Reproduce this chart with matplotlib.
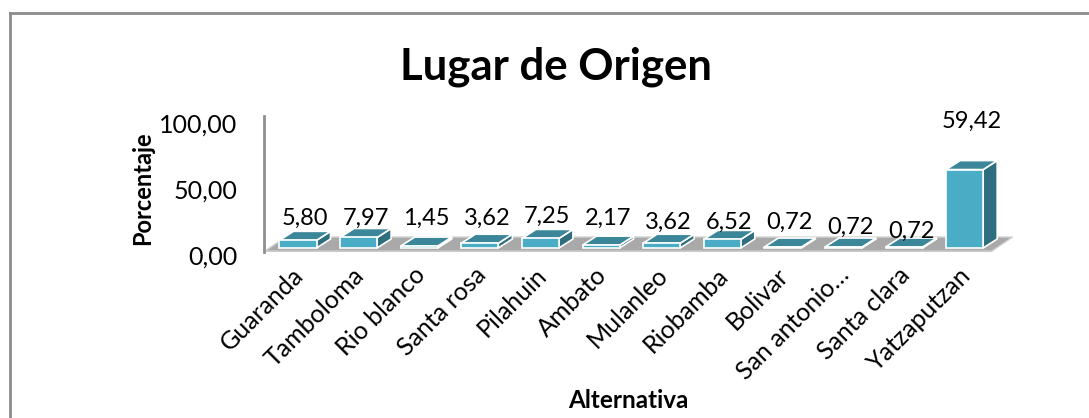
import numpy as np
import matplotlib.pyplot as plt
from matplotlib.patches import Polygon
from matplotlib.lines import Line2D
import matplotlib.transforms as mtransforms

plt.rcParams["font.family"] = ["Lato", "DejaVu Sans"]

# --- data ---
categories = ["Guaranda", "Tamboloma", "Rio blanco", "Santa rosa", "Pilahuin",
              "Ambato", "Mulanleo", "Riobamba", "Bolivar", "San antonio…",
              "Santa clara", "Yatzaputzan"]
values = [5.80, 7.97, 1.45, 3.62, 7.25, 2.17, 3.62, 6.52, 0.72, 0.72, 0.72, 59.42]
value_labels = ["5,80", "7,97", "1,45", "3,62", "7,25", "2,17", "3,62", "6,52",
                "0,72", "0,72", "0,72", "59,42"]
yticks = [0, 50, 100]
ytick_labels = ["0,00", "50,00", "100,00"]

# styling (pixel lifts of the value labels, as Excel placed them)
label_lift = [22, 19, 28, 25, 22, 27, 21, 17, 25, 20, 16, 48]

front_col = "#4BACC6"
top_col = "#3B8699"
side_col = "#2F6E7E"

W, H = 1089, 418
fig = plt.figure(figsize=(W / 100, H / 100), dpi=100)

# axes placed in pixel terms
ax = fig.add_axes([264 / W, (H - 252) / H, (1015 - 264) / W, (252 - 116) / H])
px_x = 60.6           # px per category
px_y = 132 / 100      # px per percent
ax.set_xlim(-0.561, 11.83)
ax.set_ylim(-4 / px_y, 100)

dx = 14 / px_x
dy = 9 / px_y
w = 37 / px_x
n = len(categories)
xs = np.arange(n)

# floor
fl_front, fl_back = -2.3, 8.3
fl_l, fl_r, fl_shift = -0.545, 11.45, 0.34
floor_top = Polygon([(fl_l, fl_front), (fl_r, fl_front), (fl_r + fl_shift, fl_back),
                     (fl_l + fl_shift, fl_back)], closed=True,
                    facecolor="#A9A9A9", edgecolor="#D0D0D0", lw=1.0, zorder=1)
ax.add_patch(floor_top)
floor_edge = Polygon([(fl_l, fl_front), (fl_r, fl_front), (fl_r, -3.0), (fl_l, -3.0)],
                     closed=True, facecolor="#C8C8C8", edgecolor="none", zorder=1)
ax.add_patch(floor_edge)

# 3D-looking bars
ax.bar(xs, values, width=w, color=front_col, edgecolor="white", linewidth=1.2, zorder=3)
for x, v in zip(xs, values):
    top = Polygon([(x - w / 2, v), (x + w / 2, v), (x + w / 2 + dx, v + dy),
                   (x - w / 2 + dx, v + dy)], closed=True,
                  facecolor=top_col, edgecolor="white", lw=1.2, zorder=2.9)
    side = Polygon([(x + w / 2, 0), (x + w / 2, v), (x + w / 2 + dx, v + dy),
                    (x + w / 2 + dx, dy)], closed=True,
                   facecolor=side_col, edgecolor="white", lw=1.2, zorder=2.8)
    ax.add_patch(top)
    ax.add_patch(side)

# value labels
for x, v, lab, lift in zip(xs, values, value_labels, label_lift):
    ax.annotate(lab, (x + dx / 2, v), xytext=(0, lift * 72 / 100), textcoords="offset points",
                ha="center", va="center", fontsize=17, zorder=5)

# axes styling
for s in ["top", "right", "bottom"]:
    ax.spines[s].set_visible(False)
ax.spines["left"].set_color("#8F8F8F")
ax.spines["left"].set_linewidth(2)
ax.set_yticks(yticks)
ax.set_yticklabels(ytick_labels, fontsize=18)
ax.tick_params(axis="y", length=0, pad=19)
shift = mtransforms.ScaledTranslation(0, -7 / 100, fig.dpi_scale_trans)
for t in ax.get_yticklabels():
    t.set_transform(t.get_transform() + shift)

ax.set_xticks(xs)
ax.set_xticklabels(categories, fontsize=18, rotation=45, ha="right",
                   va="top", rotation_mode="anchor")
ax.tick_params(axis="x", length=0, pad=8)
xshift = mtransforms.ScaledTranslation(-6 / 100, 0, fig.dpi_scale_trans)
for t in ax.get_xticklabels():
    t.set_transform(t.get_transform() + xshift)
ax.patch.set_visible(False)

# titles
fig.text(556 / W, 1 - 67 / H, "Lugar de Origen", ha="center", va="center",
         fontsize=31.5, fontweight="bold")
fig.text(143 / W, 1 - 188 / H, "Porcentaje", ha="center", va="center",
         rotation=90, fontsize=17, fontweight="bold")
fig.text(628 / W, 1 - 400 / H, "Alternativa", ha="center", va="center",
         fontsize=17.5, fontweight="bold")

# outer chart frame
fig.add_artist(Line2D([10 / W, 10 / W], [0, 1 - 13 / H], transform=fig.transFigure,
                      color="#8C8C8C", lw=2))
fig.add_artist(Line2D([10 / W, 1], [1 - 13 / H, 1 - 13 / H], transform=fig.transFigure,
                      color="#8C8C8C", lw=2))

fig.savefig("out.png", dpi=100)
